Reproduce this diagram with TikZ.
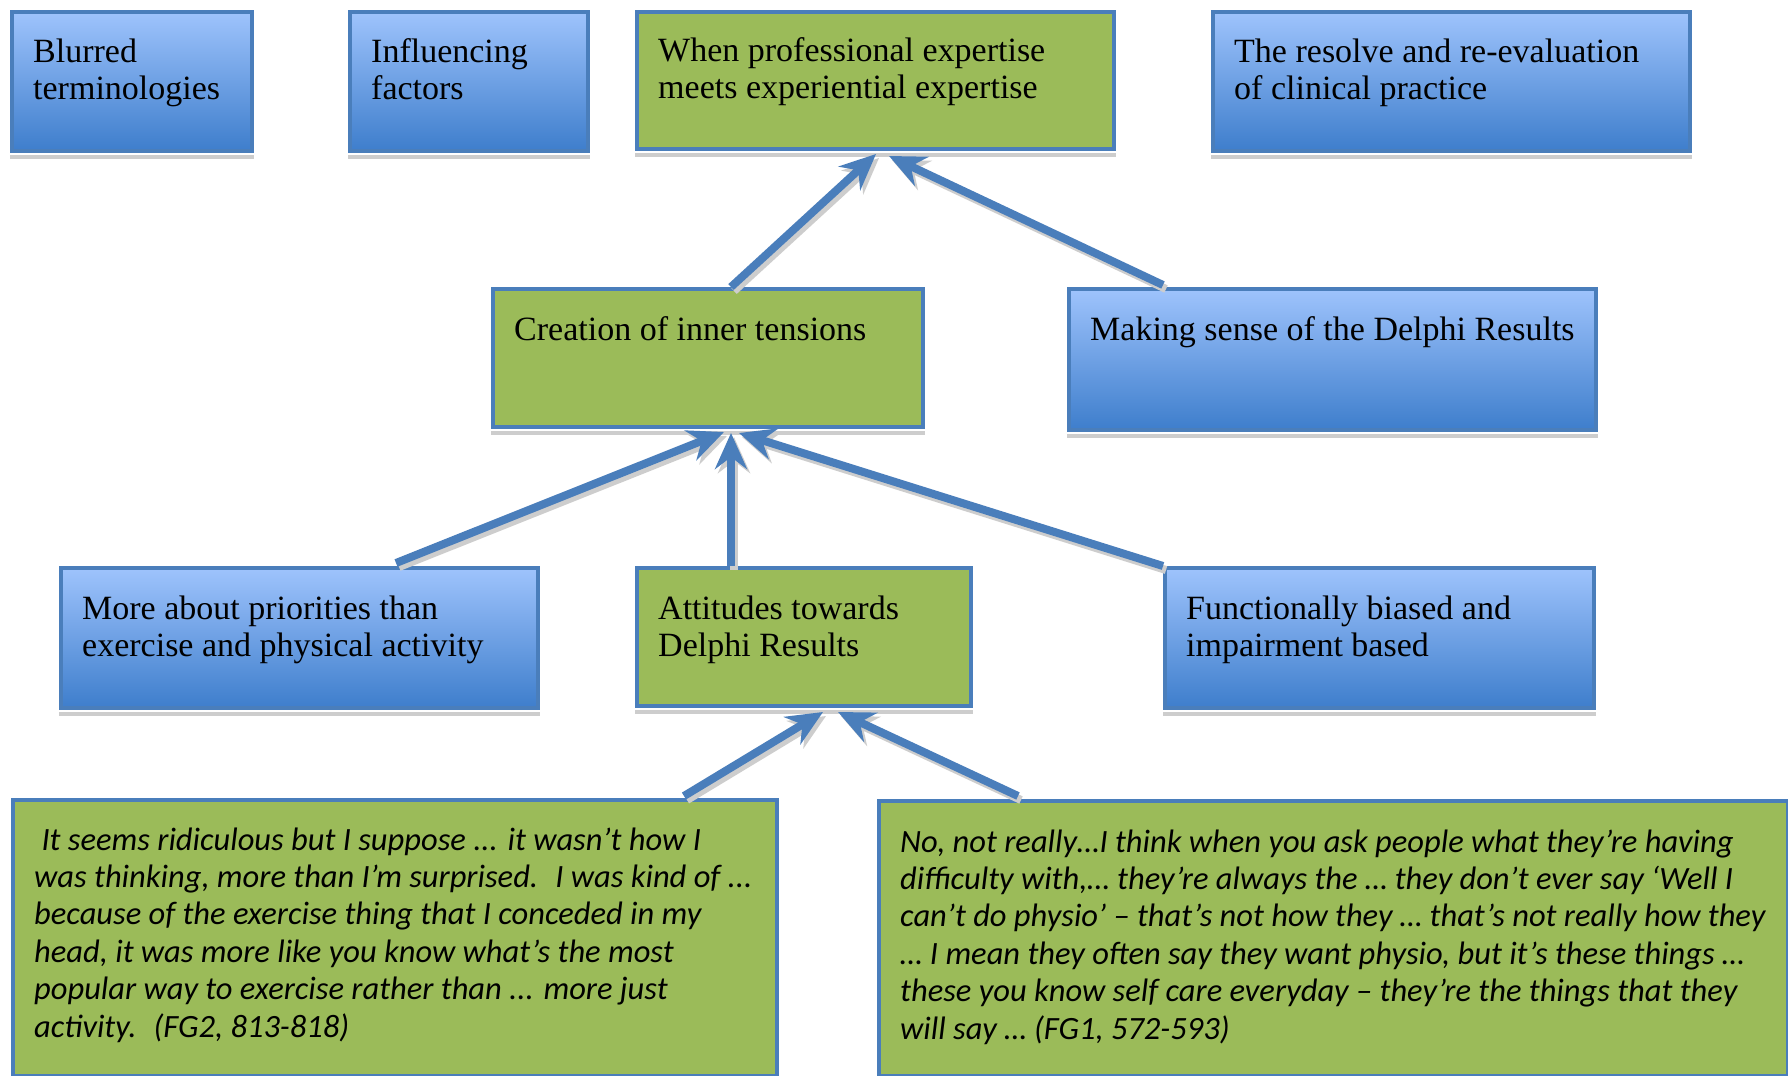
\documentclass[tikz,border=0pt]{standalone}
\usepackage{fontspec}
\setmainfont{Liberation Serif}
\newfontfamily\quotefont{Carlito}
\usetikzlibrary{arrows.meta,calc}
\definecolor{bord}{RGB}{74,126,187}
\definecolor{grn}{RGB}{155,187,89}
\definecolor{btop}{RGB}{158,195,252}
\definecolor{bbot}{RGB}{62,126,204}
\definecolor{shad}{RGB}{205,205,205}
\begin{document}
\begin{tikzpicture}[x=1pt,y=-1pt,
 boxbase/.style={rectangle, draw=bord, line width=4pt, anchor=north west, inner sep=0pt},
 bluebox/.style={boxbase, top color=btop, bottom color=bbot},
 greenbox/.style={boxbase, fill=grn},
 lbl/.style={anchor=base west, inner sep=0pt, align=left, font=\fontsize{34}{37}\selectfont},
 qlbl/.style={anchor=base west, inner sep=0pt, align=left, font=\quotefont\itshape\fontsize{32.5}{37.4}\selectfont},
 tipshape/.style={-{Stealth[length=36pt,width=32pt,inset=12pt]}},
 conn/.style={draw=bord, line width=8pt, tipshape},
 connshadow/.style={draw=shad, line width=8pt, tipshape, transform canvas={shift={(3pt,-4pt)}}},
 shadowband/.style={fill=shad}]
\useasboundingbox (0,0) rectangle (1788,1076);
\fill[white] (0,0) rectangle (1788,1076);

% boxes
\node[bluebox, minimum width=240, minimum height=139] (A) at (10,10) {};
\node[bluebox, minimum width=238, minimum height=139] (B) at (348,10) {};
\node[greenbox, minimum width=477, minimum height=137] (C) at (635,10) {};
\node[bluebox, minimum width=477, minimum height=139] (D) at (1211,10) {};
\node[greenbox, minimum width=430, minimum height=138] (E) at (491,287) {};
\node[bluebox, minimum width=527, minimum height=141] (F) at (1067,287) {};
\node[bluebox, minimum width=477, minimum height=140] (G) at (59,566) {};
\node[greenbox, minimum width=334, minimum height=138] (H) at (635,566) {};
\node[bluebox, minimum width=429, minimum height=140] (I) at (1163,566) {};
\node[greenbox, minimum width=764, minimum height=276] (J) at (11,798) {};
\node[greenbox, minimum width=909, minimum height=275] (K) at (877,799) {};

% shadow bands under boxes
\foreach \b in {A,B,C,D,E,F,G,H,I}{
  \fill[shadowband] ($(\b.south west)+(0,2)$) rectangle ($(\b.south east)+(0,6)$);
}

% texts (base anchor = last line baseline)
\node[lbl] (At) at ($(A.north west)+(23,89)$) {Blurred\\terminologies};
\node[lbl] (Bt) at ($(B.north west)+(23,89)$) {Influencing\\factors};
\node[lbl] (Ct) at ($(C.north west)+(23,88)$) {When professional expertise\\meets experiential expertise};
\node[lbl] (Dt) at ($(D.north west)+(23,89)$) {The resolve and re-evaluation\\of clinical practice};
\node[lbl] (Et) at ($(E.north west)+(23,53)$) {Creation of inner tensions};
\node[lbl] (Ft) at ($(F.north west)+(23,53)$) {Making sense of the Delphi Results};
\node[lbl] (Gt) at ($(G.north west)+(23,90)$) {More about priorities than\\exercise and physical activity};
\node[lbl] (Ht) at ($(H.north west)+(23,90)$) {Attitudes towards\\Delphi Results};
\node[lbl] (It) at ($(I.north west)+(23,90)$) {Functionally biased and\\impairment based};
\node[qlbl] (Jt) at ($(J.north west)+(23,239)$) {\ It seems ridiculous but I suppose ... it wasn’t how I\\was thinking, more than I’m surprised.~ I was kind of ...\\because of the exercise thing that I conceded in my\\head, it was more like you know what’s the most\\popular way to exercise rather than ... more just\\activity.~ (FG2, 813-818)};
\node[qlbl] (Kt) at ($(K.north west)+(23,240)$) {No, not really…I think when you ask people what they’re having\\difficulty with,… they’re always the … they don’t ever say ‘Well I\\can’t do physio’ – that’s not how they … that’s not really how they\\… I mean they often say they want physio, but it’s these things …\\these you know self care everyday – they’re the things that they\\will say … (FG1, 572-593)};

% connectors: shadows then arrows
\foreach \st in {connshadow,conn}{
  \draw[\st] ($(E.north west)+(240,0)$) -- ($(C.south west)+(241,3)$);
  \draw[\st] ($(F.north west)+(96,-2)$) -- ($(C.south west)+(254,5)$);
  \draw[\st] ($(G.north west)+(337,-3)$) -- ($(E.south west)+(233,3)$);
  \draw[\st] ($(H.north west)+(96,0)$) -- ($(E.south west)+(240,4)$);
  \draw[\st] ($(I.north west)+(0,0)$) -- ($(E.south west)+(248,4)$);
  \draw[\st] ($(J.north west)+(673,-2)$) -- ($(H.south west)+(188,4)$);
  \draw[\st] ($(K.north west)+(141,-3)$) -- ($(H.south west)+(203,4)$);
}
\end{tikzpicture}
\end{document}
